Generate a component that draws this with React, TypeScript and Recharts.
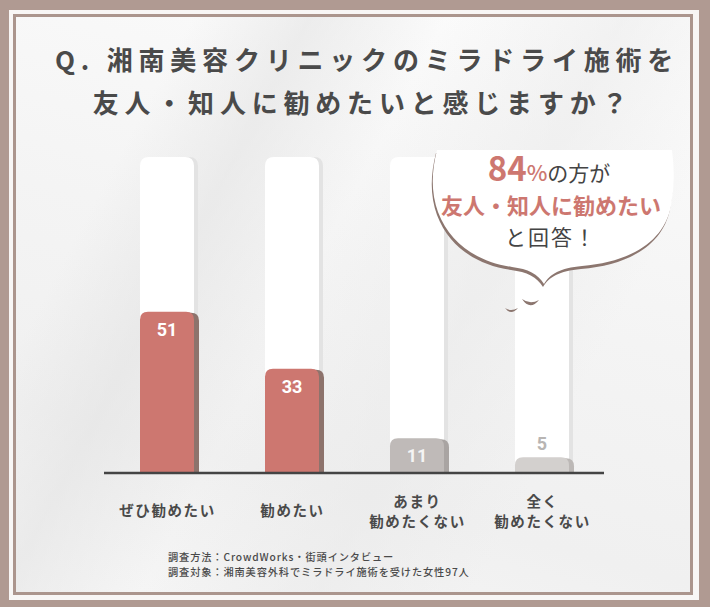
import { BarChart, Bar, XAxis, YAxis, LabelList } from "recharts"

const categories = ["ぜひ勧めたい", "勧めたい", "あまり\n勧めたくない", "全く\n勧めたくない"]
const values = [51, 33, 11, 5]
const maxValue = 100

const titleLines = ["Q. 湘南美容クリニックのミラドライ施術を", "友人・知人に勧めたいと感じますか？"]
const notes = ["調査方法：CrowdWorks・街頭インタビュー", "調査対象：湘南美容外科でミラドライ施術を受けた女性97人"]

const data = categories.map((name, i) => ({ name, value: values[i] }))

// bar colours by index: main, side shadow, label
const barFill = ["#cd7770", "#cd7770", "#bfbab8", "#d3d0ce"]
const barShadow = ["#8d736c", "#8d736c", "#a9a4a2", "#bcb8b6"]
const labelFill = ["#ffffff", "#ffffff", "#f4f4f4", "#b8b5b3"]

const FONT = "'Noto Sans CJK JP', 'Noto Sans', sans-serif"

function topRounded(x: number, y: number, w: number, h: number, r: number) {
  const rr = Math.max(0, Math.min(r, h, w / 2))
  return `M${x},${y + h} L${x},${y + rr} Q${x},${y} ${x + rr},${y} L${x + w - rr},${y} Q${x + w},${y} ${x + w},${y + rr} L${x + w},${y + h} Z`
}

const BarShape = (props: any) => {
  const { x, y, width, height, index } = props
  if (!height || height <= 0) return null
  return (
    <g>
      <path d={topRounded(x + 5, y + 1, width, height - 1, 8)} fill={barShadow[index]} />
      <path d={topRounded(x, y, width, height, 8)} fill={barFill[index]} />
    </g>
  )
}

const BgShape = (props: any) => {
  const { x, y, width, height } = props
  return (
    <g>
      <path d={topRounded(x + 4, y, width, height, 9)} fill="#e3e3e3" />
      <path d={topRounded(x, y, width, height, 9)} fill="#ffffff" />
    </g>
  )
}

const ValueLabel = (props: any) => {
  const { x, y, width, value, index } = props
  const inside = value >= 10
  return (
    <text
      x={x + width / 2}
      y={inside ? y + 24 : y - 7}
      textAnchor="middle"
      fill={labelFill[index]}
      fontFamily="Roboto, sans-serif"
      fontWeight={700}
      fontSize={18}
    >
      {value}
    </text>
  )
}

const CategoryTick = (props: any) => {
  const { x, y, payload } = props
  const lines = String(payload.value).split("\n")
  const start = lines.length === 1 ? 43 : 34
  return (
    <text x={x} textAnchor="middle" fill="#4a4a4a" fontFamily={FONT} fontWeight={700} fontSize={14.5} letterSpacing={1.6}>
      {lines.map((l, i) => (
        <tspan key={i} x={x + 1} y={y + start + i * 19.5}>
          {l}
        </tspan>
      ))}
    </text>
  )
}

const Bubble = () => {
  const body =
    "M437,150 Q428,185 438,212 C450,244 478,262 512,267 C528,269 538,274 544,284 C550,274 560,268 582,266 C630,262 664,242 671,206 Q676,180 672,150 Z"
  return (
    <g>
      <path d={body} fill="#8c766f" transform="translate(-1,3)" />
      <path d={body} fill="#ffffff" />
      <path d="M505,308 Q511,316 518,308 Q511,312 505,308 Z" fill="#8c766f" />
      <path d="M522,299 Q530,311 539,300 Q530,305 522,299 Z" fill="#8c766f" />
      <text x={549} y={181} textAnchor="middle" fontFamily={FONT}>
        <tspan fill="#cd7770" fontWeight={700} fontSize={33}>84</tspan>
        <tspan fill="#cd7770" fontWeight={500} fontSize={22}>%</tspan>
        <tspan fill="#444" fontWeight={400} fontSize={21}>の方が</tspan>
      </text>
      <text x={551} y={214} textAnchor="middle" fontFamily={FONT} fill="#cd7770" fontWeight={700} fontSize={22}>
        友人・知人に勧めたい
      </text>
      <text x={551} y={245} textAnchor="middle" fontFamily={FONT} fill="#444" fontWeight={400} fontSize={21} letterSpacing={2}>
        と回答！
      </text>
    </g>
  )
}

export default function App() {
  return (
    <div style={{ position: "relative", width: 710, height: 607, background: "#b09a92", overflow: "hidden" }}>
      <style>{`body{margin:0}`}</style>
      <div style={{ position: "absolute", left: 9, top: 10, width: 690, height: 590, background: "#f8f6f5" }} />
      <div
        style={{
          position: "absolute",
          left: 13,
          top: 14,
          width: 680,
          height: 581,
          boxSizing: "border-box",
          border: "3px solid #ab958d",
          background:
            "linear-gradient(118deg, rgba(255,255,255,0) 18%, rgba(226,226,226,0.55) 30%, rgba(255,255,255,0) 44%, rgba(232,232,232,0.5) 62%, rgba(255,255,255,0) 78%), linear-gradient(195deg, #fcfcfc 0%, #f4f4f4 45%, #f0f0f0 75%, #f6f6f6 100%)",
        }}
      />
      <div style={{ position: "absolute", left: 0, top: 0 }}>
        <BarChart width={710} height={607} data={data} margin={{ top: 157, right: 106, left: 104, bottom: 74 }}>
          <XAxis
            dataKey="name"
            height={60}
            tickLine={false}
            tickSize={0}
            tickMargin={0}
            axisLine={{ stroke: "#444444", strokeWidth: 2.5 }}
            tick={<CategoryTick />}
            interval={0}
          />
          <YAxis hide domain={[0, maxValue]} />
          <Bar dataKey="value" barSize={54} isAnimationActive={false} shape={<BarShape />} background={<BgShape />}>
            <LabelList dataKey="value" content={<ValueLabel />} />
          </Bar>
        </BarChart>
      </div>
      <svg width={710} height={607} style={{ position: "absolute", left: 0, top: 0, pointerEvents: "none" }}>
        <g fontFamily={FONT} fontWeight={700} fill="#4a4a4a" fontSize={26} letterSpacing={5.8} textAnchor="middle">
          <text x={367} y={70}>{titleLines[0]}</text>
          <text x={363} y={113}>{titleLines[1]}</text>
        </g>
        <Bubble />
        <g fontFamily={FONT} fontWeight={500} fill="#4a4a4a" fontSize={10.2} letterSpacing={0.9}>
          <text x={168} y={561}>{notes[0]}</text>
          <text x={168} y={576}>{notes[1]}</text>
        </g>
      </svg>
    </div>
  )
}
